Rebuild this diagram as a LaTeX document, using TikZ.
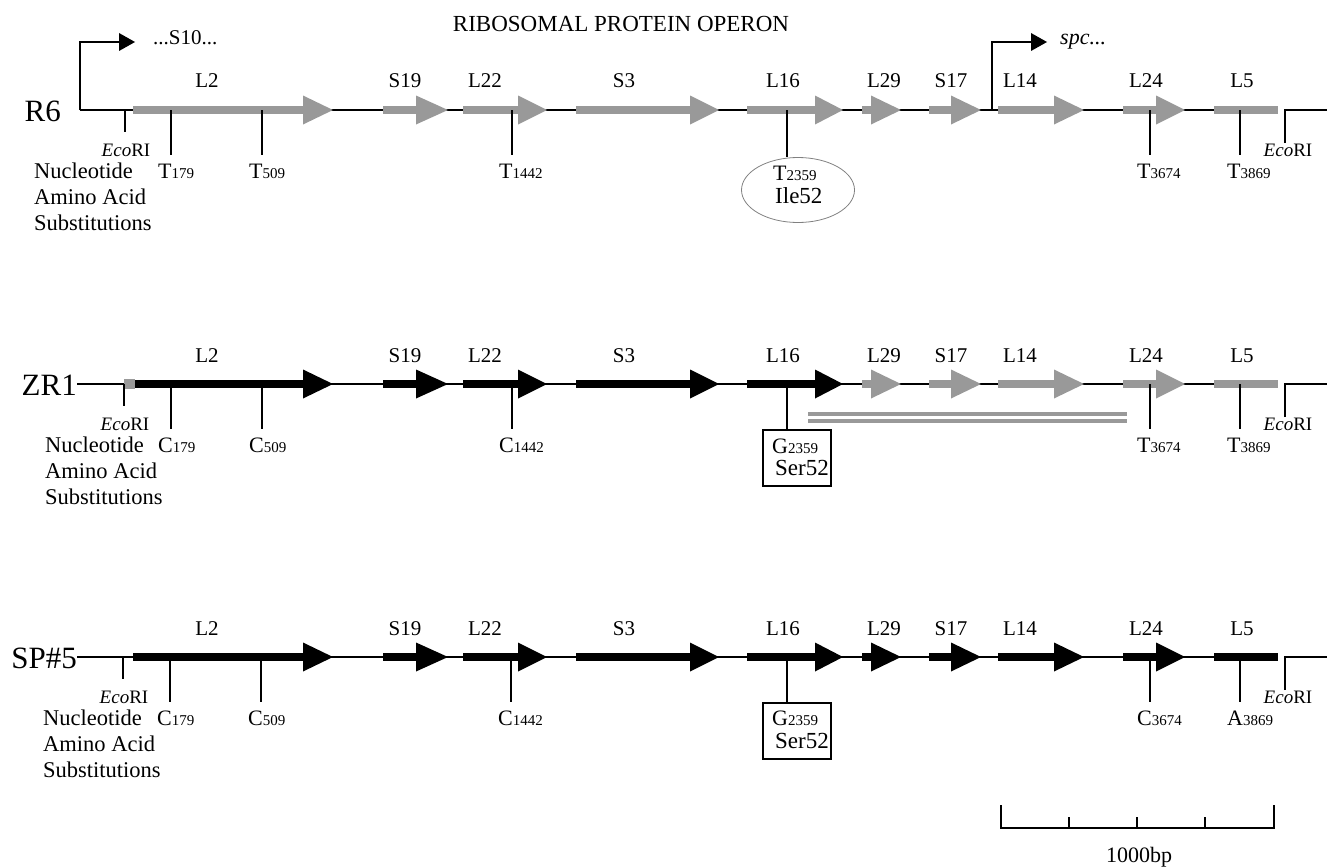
\documentclass[tikz,border=0pt]{standalone}
\usepackage{fontspec}
\setmainfont{Liberation Serif}
\usetikzlibrary{shapes.geometric}
\definecolor{genegrey}{gray}{0.6}
\definecolor{ringgrey}{gray}{0.5}
\tikzset{
  mainline/.style={line width=1.5pt},
  tickline/.style={line width=1.5pt},
  promline/.style={line width=2pt},
  genelab/.style={font=\fontsize{21}{25}\selectfont, inner sep=0pt, anchor=base},
  rowlab/.style={font=\fontsize{31}{35}\selectfont, inner sep=0pt, anchor=base east},
  txt/.style={font=\fontsize{22.5}{26}\selectfont, inner sep=0pt, anchor=base west},
  ecolab/.style={font=\fontsize{19}{22}\selectfont, inner sep=0pt, anchor=base},
  mutlab/.style={inner sep=0pt, anchor=base west},
  subbox/.style={draw, line width=1.2pt, minimum width=68pt, minimum height=56pt, inner sep=0pt},
  ring/.style={draw=ringgrey, line width=0.8pt, ellipse, minimum width=113pt, minimum height=65pt, inner sep=0pt},
}
% gene arrow: bar start, head start, tip, line y, colour
\newcommand\opgene[5]{%
  \fill[#5] (#1,#4-4) rectangle (#2,#4+4);
  \fill[#5] (#2,#4-14.5) -- (#3,#4) -- (#2,#4+14.5) -- cycle;}
% all genes of one row: y, colour of L2..L16, colour of L29..L5
\newcommand\opgenes[3]{%
  \opgene{133}{303}{333}{#1}{#2}
  \opgene{383}{416}{448}{#1}{#2}
  \opgene{463}{518}{547}{#1}{#2}
  \opgene{576}{690}{719}{#1}{#2}
  \opgene{747}{815}{843}{#1}{#2}
  \opgene{862}{871}{901}{#1}{#3}
  \opgene{929}{951}{981}{#1}{#3}
  \opgene{998}{1054}{1084}{#1}{#3}
  \opgene{1123}{1156}{1185}{#1}{#3}
  \fill[#3] (1214,#1-4) rectangle (1278,#1+4);
  \node[genelab] (gL2-#1)  at (207,#1-22)  {L2};
  \node[genelab] (gS19-#1) at (405,#1-22)  {S19};
  \node[genelab] (gL22-#1) at (485,#1-22)  {L22};
  \node[genelab] (gS3-#1)  at (624,#1-22)  {S3};
  \node[genelab] (gL16-#1) at (783,#1-22)  {L16};
  \node[genelab] (gL29-#1) at (884,#1-22)  {L29};
  \node[genelab] (gS17-#1) at (951,#1-22)  {S17};
  \node[genelab] (gL14-#1) at (1020,#1-22) {L14};
  \node[genelab] (gL24-#1) at (1146,#1-22) {L24};
  \node[genelab] (gL5-#1)  at (1242,#1-22) {L5};}
% mutation mark: x, line y, letter, position
\newcommand\mutmark[4]{%
  \coordinate (mt-#1-#2) at (#1,#2);
  \coordinate (mb-#1-#2) at (#1,#2+45);
  \draw[tickline] (mt-#1-#2) -- (mb-#1-#2);
  \node[mutlab] (mut-#1-#2) at (#1-13,#2+68)
    {\fontsize{22}{25}\selectfont #3\fontsize{15}{17}\selectfont #4};}
% legend block: x, line y
\newcommand\subsblock[2]{%
  \node[txt] (nuc-#2) at (#1,#2+68)  {Nucleotide};
  \node[txt] (aa-#2)  at (#1,#2+94)  {Amino Acid};
  \node[txt] (sub-#2) at (#1,#2+120) {Substitutions};}
% EcoRI sites: left x, line y
\newcommand\ecosites[2]{%
  \coordinate (el-#2) at (#1,#2);
  \coordinate (elb-#2) at (#1,#2+22);
  \draw[tickline] (el-#2) -- (elb-#2);
  \node[ecolab] (eco-l-#2) at (#1+1,#2+46) {\textit{Eco}RI};
  \coordinate (er-#2) at (1285,#2);
  \coordinate (erb-#2) at (1285,#2+33);
  \coordinate (ere-#2) at (1327,#2);
  \draw[tickline] (erb-#2) -- (er-#2) -- (ere-#2);
  \node[ecolab] (eco-r-#2) at (1288,#2+46) {\textit{Eco}RI};}

\begin{document}
\begin{tikzpicture}[x=1pt,y=-1pt]
\useasboundingbox (0,0) rectangle (1327,867);

% title
\node[font=\fontsize{23}{26}\selectfont, inner sep=0pt, anchor=base] (title) at (621,32) {RIBOSOMAL PROTEIN OPERON};

% ===== Row 1: R6 =====
\node[rowlab] (r6) at (61,121) {R6};
\coordinate (p1a) at (80,110);
\coordinate (p1b) at (80,42);
\coordinate (p1c) at (120,42);
\coordinate (l1e) at (1278,110);
\draw[mainline] (p1a) -- (l1e);
\draw[promline] (p1a) -- (p1b) -- (p1c);
\fill (119,33) -- (135,42) -- (119,51) -- cycle;
\node[font=\fontsize{21}{25}\selectfont, inner sep=0pt, anchor=base west] (s10) at (153,45) {...S10...};
\coordinate (p2a) at (992,110);
\coordinate (p2b) at (992,42);
\coordinate (p2c) at (1032,42);
\draw[promline] (p2a) -- (p2b) -- (p2c);
\fill (1031,33) -- (1047,42) -- (1031,51) -- cycle;
\node[font=\fontsize{22}{25}\selectfont\itshape, inner sep=0pt, anchor=base west] (spc) at (1060,45) {spc...};
\opgenes{110}{genegrey}{genegrey}
\ecosites{125}{110}
\subsblock{34}{110}
\mutmark{171}{110}{T}{179}
\mutmark{262}{110}{T}{509}
\mutmark{512}{110}{T}{1442}
\mutmark{1150}{110}{T}{3674}
\mutmark{1240}{110}{T}{3869}
\node[ring] (ile) at (798,190) {};
\coordinate (t2359) at (787,110);
\draw[tickline] (t2359) -- (787,157);
\node[mutlab] (ileA) at (773,180) {\fontsize{22}{25}\selectfont T\fontsize{15}{17}\selectfont 2359};
\node[mutlab] (ileB) at (775,203) {\fontsize{23}{25}\selectfont Ile52};

% ===== Row 2: ZR1 =====
\node[rowlab] (zr1) at (77,395) {ZR1};
\coordinate (l2s) at (77,384);
\coordinate (l2e) at (1278,384);
\draw[mainline] (l2s) -- (l2e);
\opgenes{384}{black}{genegrey}
\fill[white] (124,378) rectangle (134.9,390);
\draw[mainline] (124,384) -- (135,384);
\fill[genegrey] (124,379) rectangle (135,389);
\ecosites{124}{384}
\subsblock{45}{384}
\mutmark{171}{384}{C}{179}
\mutmark{262}{384}{C}{509}
\mutmark{512}{384}{C}{1442}
\mutmark{1150}{384}{T}{3674}
\mutmark{1240}{384}{T}{3869}
\node[subbox] (box2) at (797,458) {};
\coordinate (g2t) at (787,384);
\draw[tickline] (g2t) -- (box2.north -| g2t);
\node[mutlab] (g2A) at (772,453) {\fontsize{22}{25}\selectfont G\fontsize{15}{17}\selectfont 2359};
\node[mutlab] (g2B) at (775,475) {\fontsize{23}{25}\selectfont Ser52};
\fill[genegrey] (808,412) rectangle (1127,416);
\fill[genegrey] (808,419) rectangle (1127,423);

% ===== Row 3: SP#5 =====
\node[rowlab] (sp5) at (77,668) {SP\#5};
\coordinate (l3s) at (77,657);
\coordinate (l3e) at (1278,657);
\draw[mainline] (l3s) -- (l3e);
\opgenes{657}{black}{black}
\ecosites{123}{657}
\subsblock{43}{657}
\mutmark{170}{657}{C}{179}
\mutmark{261}{657}{C}{509}
\mutmark{511}{657}{C}{1442}
\mutmark{1150}{657}{C}{3674}
\mutmark{1240}{657}{A}{3869}
\node[subbox] (box3) at (797,731) {};
\coordinate (g3t) at (787,657);
\draw[tickline] (g3t) -- (box3.north -| g3t);
\node[mutlab] (g3A) at (772,725) {\fontsize{22}{25}\selectfont G\fontsize{15}{17}\selectfont 2359};
\node[mutlab] (g3B) at (775,748) {\fontsize{23}{25}\selectfont Ser52};

% ===== scale bar =====
\coordinate (sb1) at (1001,805);
\coordinate (sb2) at (1001,828);
\coordinate (sb3) at (1274,828);
\coordinate (sb4) at (1274,805);
\draw[line width=1.5pt] (sb1) -- (sb2) -- (sb3) -- (sb4);
\foreach \tx in {1069,1137,1205} \draw[line width=1.5pt] (\tx,828) -- (\tx,817);
\node[font=\fontsize{22}{25}\selectfont, inner sep=0pt, anchor=base] (kb) at (1139,862) {1000bp};
\end{tikzpicture}
\end{document}
